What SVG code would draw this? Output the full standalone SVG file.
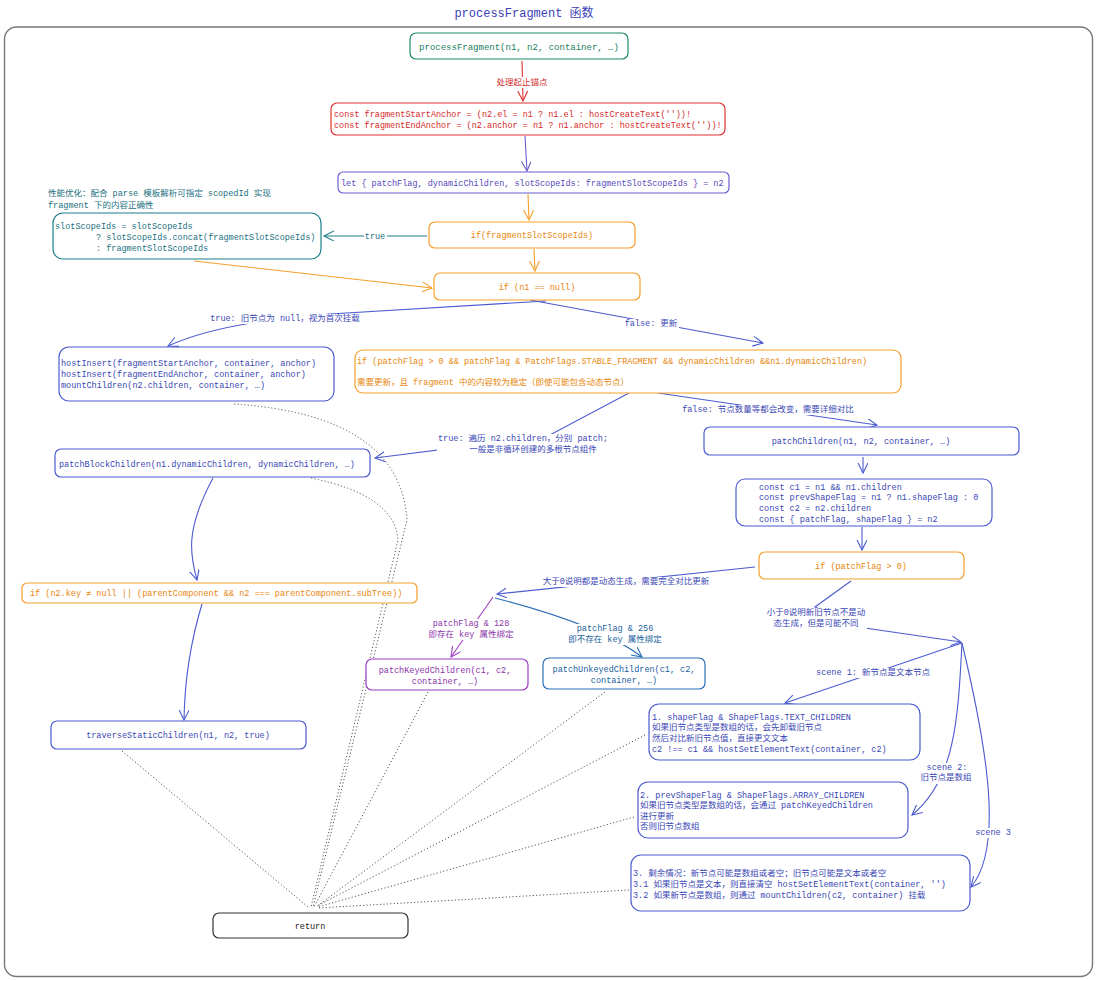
<svg xmlns="http://www.w3.org/2000/svg" width="1098" height="981" viewBox="0 0 1098 981">
<style>
text{font-family:'Liberation Mono','Noto Sans CJK SC',monospace;font-size:8.5px}
.box{fill:#fff;stroke-width:1.2}
.c{text-anchor:middle}
.bg{fill:#fff}
.green{stroke:#1a8a66}.tgreen{fill:#1a7d5e}
.red{stroke:#e03131}.tred{fill:#d62828}
.purp{stroke:#6a5fd0}.tpurp{fill:#5548bb}
.orng{stroke:#f59f2a}.torng{fill:#e8860a}
.teal{stroke:#1d7f8c}.tteal{fill:#1a7080}
.blue{stroke:#4b5bd0}.tblue{fill:#3a47b5}
.grape{stroke:#9c3fc0}.tgrape{fill:#8a35aa}
.ublue{stroke:#2a6fb5}.tublue{fill:#225f9e}
.dark{stroke:#333}.tdark{fill:#222}
.ln{fill:none;stroke-width:1.1}
.dot{fill:none;stroke:#555;stroke-width:1;stroke-dasharray:1.2 2.2}
</style>
<defs>
<marker id="aRed" markerUnits="userSpaceOnUse" markerWidth="14" markerHeight="12" refX="10" refY="5" orient="auto"><path d="M0,0 L10,5 L0,10" fill="none" stroke="#e03131" stroke-width="1.1"/></marker>
<marker id="aPurp" markerUnits="userSpaceOnUse" markerWidth="14" markerHeight="12" refX="10" refY="5" orient="auto"><path d="M0,0 L10,5 L0,10" fill="none" stroke="#6a5fd0" stroke-width="1.1"/></marker>
<marker id="aOrng" markerUnits="userSpaceOnUse" markerWidth="14" markerHeight="12" refX="10" refY="5" orient="auto"><path d="M0,0 L10,5 L0,10" fill="none" stroke="#f59f2a" stroke-width="1.1"/></marker>
<marker id="aTeal" markerUnits="userSpaceOnUse" markerWidth="14" markerHeight="12" refX="10" refY="5" orient="auto"><path d="M0,0 L10,5 L0,10" fill="none" stroke="#1d7f8c" stroke-width="1.1"/></marker>
<marker id="aBlue" markerUnits="userSpaceOnUse" markerWidth="14" markerHeight="12" refX="10" refY="5" orient="auto"><path d="M0,0 L10,5 L0,10" fill="none" stroke="#4b5bd0" stroke-width="1.1"/></marker>
<marker id="aGrape" markerUnits="userSpaceOnUse" markerWidth="14" markerHeight="12" refX="10" refY="5" orient="auto"><path d="M0,0 L10,5 L0,10" fill="none" stroke="#9c3fc0" stroke-width="1.1"/></marker>
<marker id="aUblue" markerUnits="userSpaceOnUse" markerWidth="14" markerHeight="12" refX="10" refY="5" orient="auto"><path d="M0,0 L10,5 L0,10" fill="none" stroke="#2a6fb5" stroke-width="1.1"/></marker>
</defs>
<rect width="1098" height="981" fill="#fff"/>
<rect x="4.5" y="27" width="1088" height="949.5" rx="12" fill="none" stroke="#777" stroke-width="1.4"/>
<text x="524" y="17" class="c" style="font-size:12px;fill:#3b3fb8">processFragment 函数</text>

<g id="connectors">
<path class="ln red" d="M522,61 L523,101" marker-end="url(#aRed)"/>
<path class="ln purp" d="M525,136 L527,171" marker-end="url(#aPurp)"/>
<path class="ln orng" d="M528,194 L529,220" marker-end="url(#aOrng)"/>
<path class="ln orng" d="M534,249 L535,271" marker-end="url(#aOrng)"/>
<path class="ln teal" d="M427,236 L324,236" marker-end="url(#aTeal)"/>
<path class="ln orng" d="M194,261 L432,288" marker-end="url(#aOrng)"/>
<path class="ln blue" d="M546,301 L330,314 Q220,322 168,346" marker-end="url(#aBlue)"/>
<path class="ln blue" d="M530,300 L763,343" marker-end="url(#aBlue)"/>
<path class="ln blue" d="M629,393 L548,436 L375,458" marker-end="url(#aBlue)"/>
<path class="ln blue" d="M658,393 L877,425" marker-end="url(#aBlue)"/>
<path class="ln blue" d="M863,457 L863,473" marker-end="url(#aBlue)"/>
<path class="ln blue" d="M862,527 L862,550" marker-end="url(#aBlue)"/>
<path class="ln blue" d="M755,567 L497,594" marker-end="url(#aBlue)"/>
<path class="ln grape" d="M493,597 L451,657" marker-end="url(#aGrape)"/>
<path class="ln ublue" d="M495,598 Q600,625 642,657" marker-end="url(#aUblue)"/>
<path class="ln blue" d="M851,581 L815,607 L858,627 L961,642" marker-end="url(#aBlue)"/>
<path class="ln blue" d="M962,643 L785,703" marker-end="url(#aBlue)"/>
<path class="ln blue" d="M962,643 C958,720 955,780 912,815" marker-end="url(#aBlue)"/>
<path class="ln blue" d="M962,643 C990,760 1002,850 971,887" marker-end="url(#aBlue)"/>
<path class="ln blue" d="M213,478 C185,530 190,555 197,580" marker-end="url(#aBlue)"/>
<path class="ln blue" d="M202,604 Q185,660 184,720" marker-end="url(#aBlue)"/>
<path class="dot" d="M122,751 L308,907"/>
<path class="dot" d="M234,404 Q400,415 407,520 L313,907"/>
<path class="dot" d="M311,478 Q395,495 398,540 L311,907"/>
<path class="dot" d="M428,692 L314,907"/>
<path class="dot" d="M605,692 L316,907"/>
<path class="dot" d="M645,735 L317,906"/>
<path class="dot" d="M634,817 L318,907"/>
<path class="dot" d="M629,890 L318,908"/>
<rect class="bg" x="495" y="77" width="54" height="11"/>
<rect class="bg" x="364" y="232" width="23" height="10"/>
<rect class="bg" x="209" y="314" width="152" height="10"/>
<rect class="bg" x="623" y="319" width="56" height="10"/>
<rect class="bg" x="437" y="434" width="172" height="21"/>
<rect class="bg" x="677" y="405" width="182" height="10"/>
<rect class="bg" x="542" y="577" width="169" height="10"/>
<rect class="bg" x="427" y="619" width="88" height="21"/>
<rect class="bg" x="567" y="624" width="96" height="21"/>
<rect class="bg" x="765" y="608" width="102" height="21"/>
<rect class="bg" x="819" y="668" width="108" height="10"/>
<rect class="bg" x="919" y="763" width="54" height="21"/>
<rect class="bg" x="974" y="828" width="38" height="10"/>
<text x="522" y="85" class="c tred">处理起止锚点</text>
<text x="375" y="239" class="c tteal">true</text>
<text x="285" y="321" class="c tblue">true: 旧节点为 null，视为首次挂载</text>
<text x="651" y="326" class="c tblue">false: 更新</text>
<text x="523" y="441" class="c tblue">true: 遍历 n2.children，分别 patch;</text>
<text x="533" y="452" class="c tblue">一般是非循环创建的多根节点组件</text>
<text x="768" y="412" class="c tblue">false: 节点数量等都会改变，需要详细对比</text>
<text x="626" y="584" class="c tblue">大于0说明都是动态生成，需要完全对比更新</text>
<text x="471" y="626" class="c tgrape">patchFlag &amp; 128</text>
<text x="471" y="637" class="c tgrape">即存在 key 属性绑定</text>
<text x="615" y="631" class="c tublue">patchFlag &amp; 256</text>
<text x="615" y="642" class="c tublue">即不存在 key 属性绑定</text>
<text x="816" y="615" class="c tblue">小于0说明新旧节点不是动</text>
<text x="816" y="626" class="c tblue">态生成，但是可能不同</text>
<text x="873" y="675" class="c tblue">scene 1: 新节点是文本节点</text>
<text x="947" y="770" class="c tblue">scene 2:</text>
<text x="946" y="780" class="c tblue">旧节点是数组</text>
<text x="993" y="835" class="c tblue">scene 3</text>
</g>

<g id="n-processFragment">
<rect x="410" y="33" width="218" height="26" rx="6" class="box green"/>
<text x="519" y="50" class="c tgreen" style="font-size:9px">processFragment(n1, n2, container, …)</text>
</g>
<g id="n-anchors">
<rect x="331" y="103" width="394" height="32" rx="6" class="box red"/>
<text x="334" y="117" class="tred">const fragmentStartAnchor = (n2.el = n1 ? n1.el : hostCreateText(''))!</text>
<text x="334" y="128" class="tred">const fragmentEndAnchor = (n2.anchor = n1 ? n1.anchor : hostCreateText(''))!</text>
</g>
<g id="n-let">
<rect x="338" y="172" width="391" height="21" rx="5" class="box purp"/>
<text x="341" y="186" class="tpurp">let { patchFlag, dynamicChildren, slotScopeIds: fragmentSlotScopeIds } = n2</text>
</g>
<g id="n-ifSlot">
<rect x="429" y="222" width="206" height="26" rx="6" class="box orng"/>
<text x="532" y="238" class="c torng">if(fragmentSlotScopeIds)</text>
</g>
<g id="n-slotScope">
<text x="48" y="196" class="tteal">性能优化：配合 parse 模板解析可指定 scopedId 实现</text>
<text x="48" y="208" class="tteal">fragment 下的内容正确性</text>
<rect x="53" y="213" width="268" height="46" rx="10" class="box teal"/>
<text x="55" y="229" class="tteal">slotScopeIds = slotScopeIds</text>
<text x="96" y="240" class="tteal">? slotScopeIds.concat(fragmentSlotScopeIds)</text>
<text x="96" y="251" class="tteal">: fragmentSlotScopeIds</text>
</g>
<g id="n-ifNull">
<rect x="434" y="273" width="206" height="27" rx="6" class="box orng"/>
<text x="537" y="290" class="c torng">if (n1 == null)</text>
</g>
<g id="n-hostInsert">
<rect x="59" y="347" width="275" height="54" rx="10" class="box blue"/>
<text x="61" y="366" class="tblue">hostInsert(fragmentStartAnchor, container, anchor)</text>
<text x="61" y="377" class="tblue">hostInsert(fragmentEndAnchor, container, anchor)</text>
<text x="61" y="388" class="tblue">mountChildren(n2.children, container, …)</text>
</g>
<g id="n-ifStable">
<rect x="355" y="350" width="546" height="43" rx="8" class="box orng"/>
<text x="357" y="364" class="torng">if (patchFlag &gt; 0 &amp;&amp; patchFlag &amp; PatchFlags.STABLE_FRAGMENT &amp;&amp; dynamicChildren &amp;&amp;n1.dynamicChildren)</text>
<text x="357" y="385" class="torng">需要更新，且 fragment 中的内容较为稳定（即使可能包含动态节点）</text>
</g>
<g id="n-patchBlock">
<rect x="55" y="449" width="315" height="28" rx="6" class="box blue"/>
<text x="59" y="467" class="tblue">patchBlockChildren(n1.dynamicChildren, dynamicChildren, …)</text>
</g>
<g id="n-patchChildren">
<rect x="704" y="427" width="315" height="28" rx="6" class="box blue"/>
<text x="861" y="444" class="c tblue">patchChildren(n1, n2, container, …)</text>
</g>
<g id="n-consts">
<rect x="736" y="479" width="256" height="47" rx="9" class="box blue"/>
<text x="759" y="490" class="tblue">const c1 = n1 &amp;&amp; n1.children</text>
<text x="759" y="500" class="tblue">const prevShapeFlag = n1 ? n1.shapeFlag : 0</text>
<text x="759" y="511" class="tblue">const c2 = n2.children</text>
<text x="759" y="522" class="tblue">const { patchFlag, shapeFlag } = n2</text>
</g>
<g id="n-ifPatchFlag">
<rect x="759" y="552" width="205" height="27" rx="6" class="box orng"/>
<text x="861" y="569" class="c torng">if (patchFlag &gt; 0)</text>
</g>
<g id="n-ifKey">
<rect x="22" y="583" width="395" height="20" rx="5" class="box orng"/>
<text x="30" y="596" class="torng">if (n2.key ≠ null || (parentComponent &amp;&amp; n2 === parentComponent.subTree))</text>
</g>
<g id="n-traverse">
<rect x="51" y="721" width="255" height="28" rx="6" class="box blue"/>
<text x="178" y="738" class="c tblue">traverseStaticChildren(n1, n2, true)</text>
</g>
<g id="n-keyed">
<rect x="366" y="659" width="162" height="31" rx="6" class="box grape"/>
<text x="445" y="673" class="c tgrape">patchKeyedChildren(c1, c2,</text>
<text x="445" y="684" class="c tgrape">container, …)</text>
</g>
<g id="n-unkeyed">
<rect x="543" y="658" width="162" height="31" rx="6" class="box ublue"/>
<text x="624" y="672" class="c tublue">patchUnkeyedChildren(c1, c2,</text>
<text x="624" y="683" class="c tublue">container, …)</text>
</g>
<g id="n-scene1">
<rect x="649" y="704" width="271" height="56" rx="10" class="box blue"/>
<text x="652" y="720" class="tblue">1. shapeFlag &amp; ShapeFlags.TEXT_CHILDREN</text>
<text x="652" y="730" class="tblue">如果旧节点类型是数组的话，会先卸载旧节点</text>
<text x="652" y="741" class="tblue">然后对比新旧节点值，直接更文文本</text>
<text x="652" y="752" class="tblue">c2 !== c1 &amp;&amp; hostSetElementText(container, c2)</text>
</g>
<g id="n-scene2">
<rect x="638" y="782" width="270" height="56" rx="10" class="box blue"/>
<text x="640" y="798" class="tblue">2. prevShapeFlag &amp; ShapeFlags.ARRAY_CHILDREN</text>
<text x="640" y="808" class="tblue">如果旧节点类型是数组的话，会通过 patchKeyedChildren</text>
<text x="640" y="819" class="tblue">进行更新</text>
<text x="640" y="829" class="tblue">否则旧节点数组</text>
</g>
<g id="n-scene3">
<rect x="631" y="855" width="339" height="56" rx="10" class="box blue"/>
<text x="633" y="876" class="tblue">3. 剩余情况：新节点可能是数组或者空；旧节点可能是文本或者空</text>
<text x="633" y="887" class="tblue">3.1 如果旧节点是文本，则直接清空 hostSetElementText(container, '')</text>
<text x="633" y="898" class="tblue">3.2 如果新节点是数组，则通过 mountChildren(c2, container) 挂载</text>
</g>
<g id="n-return">
<rect x="213" y="913" width="195" height="25" rx="6" class="box dark"/>
<text x="310" y="929" class="c tdark">return</text>
</g>
</svg>
